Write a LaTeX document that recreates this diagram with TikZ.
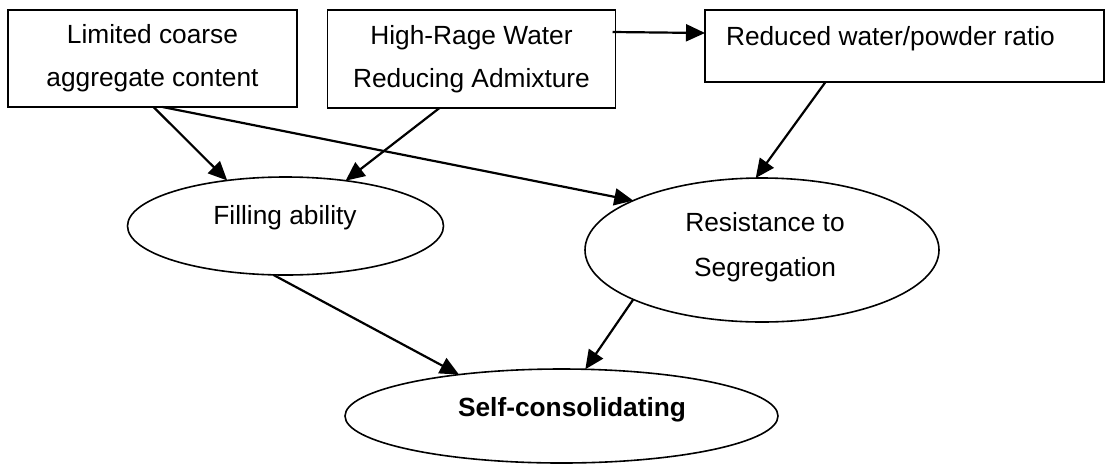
\documentclass[tikz,border=0pt]{standalone}
\usepackage{fontspec}
\setmainfont{Liberation Sans}
\usetikzlibrary{arrows.meta,shapes.geometric}
\begin{document}
\begin{tikzpicture}[x=1pt,y=-1pt,
  box/.style={draw, line width=1.7pt, rectangle, inner sep=0pt, outer sep=0pt, align=center},
  oval/.style={draw, line width=1.6pt, ellipse, inner sep=0pt, outer sep=0pt},
  lbl/.style={inner sep=0pt, outer sep=0pt, align=center},
  conn/.style={line width=2.2pt, -{Triangle[length=19pt,width=17pt]}},
  font=\fontsize{26.3}{45}\selectfont]
\useasboundingbox (0,0) rectangle (1107,464);
% boxes
\node[box, minimum width=289pt, minimum height=97pt] (lim) at (152.5,58.5) {\raisebox{-2pt}{Limited coarse}\\aggregate content};
\node[box, minimum width=288pt, minimum height=98pt] (hrw) at (471.5,59) {\raisebox{-2pt}{High-Rage Water}\\Reducing Admixture};
\node[box, minimum width=399pt, minimum height=72pt] (red) at (904.5,46) {};
\node[lbl, anchor=base west] (redt) at (726,45) {Reduced water/powder ratio};
% ellipses
\node[oval, minimum width=316pt, minimum height=98pt] (fill) at (285.5,226) {};
\node[lbl, anchor=base] (fillt) at (285,224) {Filling ability};
\node[oval, minimum width=354pt, minimum height=144pt] (res) at (762,250) {};
\node[lbl] (rest) at (765,246.7) {Resistance to\\Segregation};
\node[oval, minimum width=433pt, minimum height=94pt] (self) at (561.5,416) {};
\node[lbl, anchor=base] (selft) at (572,416) {\textbf{Self-consolidating}};
% connectors
\draw[conn] ([xshift=-3pt,yshift=27pt]hrw.east) -- ([yshift=13pt]red.west);
\draw[conn] ([xshift=1pt]lim.south) -- (fill.142.5);
\draw[conn] ([xshift=10pt]lim.south) -- (res.159.3);
\draw[conn] ([xshift=-32pt]hrw.south) -- (fill.37.2);
\draw[conn] ([xshift=-79pt]red.south) -- (res.95.6);
\draw[conn] (fill.256) -- (self.158.6);
\draw[conn] (res.201) -- (self.63);
\end{tikzpicture}
\end{document}
